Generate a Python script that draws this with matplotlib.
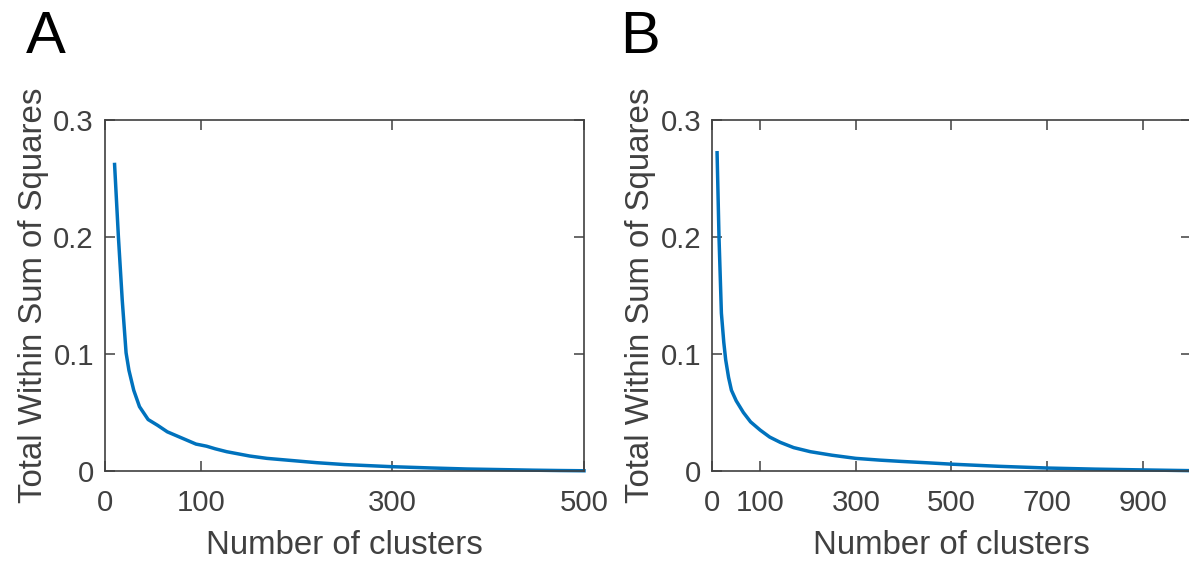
import matplotlib
matplotlib.use("Agg")
import matplotlib.pyplot as plt

# ---- data ----
A_k = [10, 14, 18, 22, 25, 30, 36, 45, 55, 65, 75, 85, 95, 100, 106, 115, 127,
       140, 151, 169, 176, 200, 221, 250, 299, 340, 378, 420, 447, 475, 500]
A_wss = [0.262, 0.200, 0.146, 0.101, 0.086, 0.069, 0.055, 0.044, 0.039, 0.0335,
         0.030, 0.0265, 0.023, 0.0222, 0.0212, 0.019, 0.0165, 0.0145, 0.0128,
         0.0108, 0.0103, 0.0086, 0.0071, 0.0055, 0.0037, 0.0026, 0.0017, 0.0011,
         0.0007, 0.0004, 0.0002]

B_k = [10, 14, 19, 24, 28, 34, 40, 50, 65, 80, 100, 120, 142, 170, 205, 250,
       300, 350, 395, 450, 502, 600, 704, 800, 904, 1000]
B_wss = [0.272, 0.200, 0.135, 0.110, 0.095, 0.080, 0.069, 0.060, 0.050, 0.042,
         0.035, 0.029, 0.0245, 0.020, 0.0165, 0.0135, 0.0108, 0.0093, 0.0082,
         0.0070, 0.0058, 0.0040, 0.0025, 0.0016, 0.0009, 0.0003]

A_xticks = [0, 100, 300, 500]
B_xticks = [0, 100, 300, 500, 700, 900]
yticks = [0, 0.1, 0.2, 0.3]
ytick_labels = ["0", "0.1", "0.2", "0.3"]
xlabel = "Number of clusters"
ylabel = "Total Within Sum of Squares"

plt.rcParams['font.family'] = ['Liberation Sans', 'DejaVu Sans']

W, H = 1189, 562
fig = plt.figure(figsize=(W / 100, H / 100), dpi=100)

axis_col = '#404040'
line_col = '#0072BD'


def make_ax(px_left, px_right, px_top, px_bottom):
    return fig.add_axes([px_left / W, 1 - px_bottom / H,
                         (px_right - px_left) / W, (px_bottom - px_top) / H])


axA = make_ax(105, 584, 120, 471)
axB = make_ax(712.3, 1190.6, 120, 471)

for ax, k, w, xt, xmax in [(axA, A_k, A_wss, A_xticks, 500),
                           (axB, B_k, B_wss, B_xticks, 1000)]:
    ax.plot(k, w, color=line_col, lw=2.5, solid_joinstyle='round', clip_on=False)
    ax.set_xlim(0, xmax)
    ax.set_ylim(0, 0.3)
    ax.set_xticks(xt)
    ax.set_xticklabels([str(v) for v in xt])
    ax.set_yticks(yticks)
    ax.set_yticklabels(ytick_labels)
    ax.tick_params(direction='in', length=7.2, width=1.1, colors=axis_col,
                   labelsize=21.2, top=True, right=True, labelcolor=axis_col)
    ax.tick_params(axis='x', pad=13)
    ax.tick_params(axis='y', pad=8)
    for s in ax.spines.values():
        s.set_color(axis_col)
        s.set_linewidth(1.2)
    ax.set_xlabel(xlabel, fontsize=23.8, color=axis_col, labelpad=9.5)
    ax.set_ylabel(ylabel, fontsize=23.8, color=axis_col, labelpad=3)

fig.text(26 / W, 1 - 53 / H, "A", fontsize=43, ha='left', va='baseline', color='black')
fig.text(620 / W, 1 - 53 / H, "B", fontsize=43, ha='left', va='baseline', color='black')

fig.savefig("out.png", dpi=100)
